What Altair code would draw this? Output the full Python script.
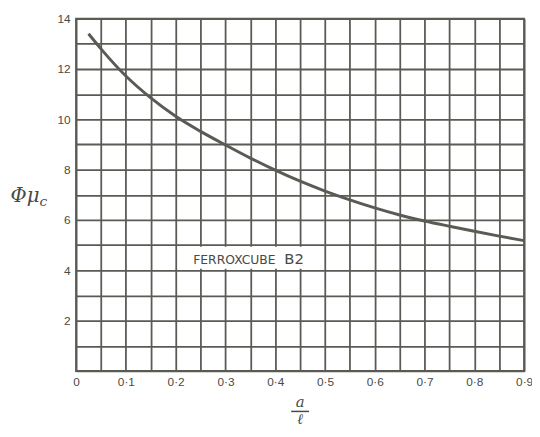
import altair as alt
import pandas as pd

# Curve
ratio = [0.025, 0.05, 0.1, 0.15, 0.2, 0.25, 0.3, 0.35, 0.4, 0.45, 0.5,
         0.55, 0.6, 0.65, 0.7, 0.75, 0.8, 0.85, 0.9]
phi_mu = [13.4, 12.8, 11.72, 10.85, 10.12, 9.52, 8.98, 8.46, 7.98, 7.54, 7.15,
          6.8, 6.48, 6.2, 5.96, 5.75, 5.55, 5.36, 5.18]

# Grid / tick values
x_grid = [0, 0.05, 0.1, 0.15, 0.2, 0.25, 0.3, 0.35, 0.4, 0.45, 0.5,
          0.55, 0.6, 0.65, 0.7, 0.75, 0.8, 0.85, 0.9]
y_grid = [0, 1, 2, 3, 4, 5, 6, 7, 8, 9, 10, 11, 12, 13, 14]

# Annotation
label_words = ["FERROXCUBE", "B2"]
label_x = [0.318, 0.438]
label_y = [4.42, 4.45]
label_size = [12.5, 15]
box_x = [0.204]
box_x2 = [0.496]
box_y = [4.06]
box_y2 = [4.94]

y_title = ["Φμ", "c"]
x_title = ["a", "ℓ"]

INK = "#5b5b55"

curve_df = pd.DataFrame({"r": ratio, "p": phi_mu})
lab_df = pd.DataFrame({"t": label_words, "x": label_x, "y": label_y, "s": label_size})
box_df = pd.DataFrame({"x": box_x, "x2": box_x2, "y": box_y, "y2": box_y2})
one = pd.DataFrame({"k": [0]})

xscale = alt.Scale(domain=[0, 0.9], nice=False, zero=False)
yscale = alt.Scale(domain=[0, 14], nice=False)

x_axis = alt.Axis(
    values=x_grid, tickCount=100, grid=True, ticks=False, domain=False,
    labelOverlap=False, labelFlush=False, labelPadding=6, labelFontSize=12,
    labelColor="#4a4a45", labelFont="Liberation Sans",
    labelExpr="round(datum.value*20) % 2 == 0 ? (datum.value == 0 ? '0' : replace(format(datum.value, '.1f'), '.', '·')) : ''",
    gridColor=INK, gridWidth=1.8, gridOpacity=1,
)
y_axis = alt.Axis(
    values=y_grid, tickCount=100, grid=True, ticks=False, domain=False,
    labelOverlap=False, labelFlush=False, labelPadding=6, labelFontSize=12,
    labelColor="#4a4a45", labelFont="Liberation Sans",
    labelExpr="datum.value > 0 && round(datum.value) % 2 == 0 ? format(datum.value, 'd') : ''",
    gridColor=INK, gridWidth=1.8, gridOpacity=1,
)

curve = alt.Chart(curve_df).mark_line(
    color=INK, strokeWidth=3, interpolate="monotone"
).encode(
    x=alt.X("r:Q", scale=xscale, axis=x_axis, title=""),
    y=alt.Y("p:Q", scale=yscale, axis=y_axis, title=""),
)

box = alt.Chart(box_df).mark_rect(color="white").encode(
    x="x:Q", x2="x2:Q", y="y:Q", y2="y2:Q"
)

labels = alt.Chart(lab_df).mark_text(
    font="DejaVu Sans", color="#4a4a45", baseline="middle", align="center"
).encode(
    x="x:Q", y="y:Q", text="t:N",
    size=alt.Size("s:Q", scale=None, legend=None),
)

yt1 = alt.Chart(one).mark_text(
    text=y_title[0], font="DejaVu Serif", fontStyle="italic", fontSize=20,
    color="#4a4a45", align="right", baseline="middle"
).encode(x=alt.value(-37), y=alt.value(180))
yt2 = alt.Chart(one).mark_text(
    text=y_title[1], font="DejaVu Serif", fontStyle="italic", fontSize=14,
    color="#4a4a45", align="left", baseline="middle"
).encode(x=alt.value(-37), y=alt.value(186))

xt1 = alt.Chart(one).mark_text(
    text=x_title[0], font="DejaVu Serif", fontStyle="italic", fontSize=15,
    color="#4a4a45", align="center", baseline="middle"
).encode(x=alt.value(227), y=alt.value(389))
xrule = alt.Chart(one).mark_rule(color="#4a4a45", strokeWidth=1.5).encode(
    x=alt.value(218), x2=alt.value(236), y=alt.value(398)
)
xt2 = alt.Chart(one).mark_text(
    text=x_title[1], font="DejaVu Serif", fontStyle="italic", fontSize=15,
    color="#4a4a45", align="center", baseline="middle"
).encode(x=alt.value(227), y=alt.value(406))

chart = alt.layer(curve, box, labels, yt1, yt2, xt1, xrule, xt2).properties(
    width=454, height=357,
    autosize=alt.AutoSizeParams(type="none"),
    padding={"left": 69, "top": 8, "right": 8, "bottom": 56},
    background="white",
).configure_view(stroke=INK, strokeWidth=2)

chart.save("out.html", embed_options={"renderer": "svg", "actions": False})
